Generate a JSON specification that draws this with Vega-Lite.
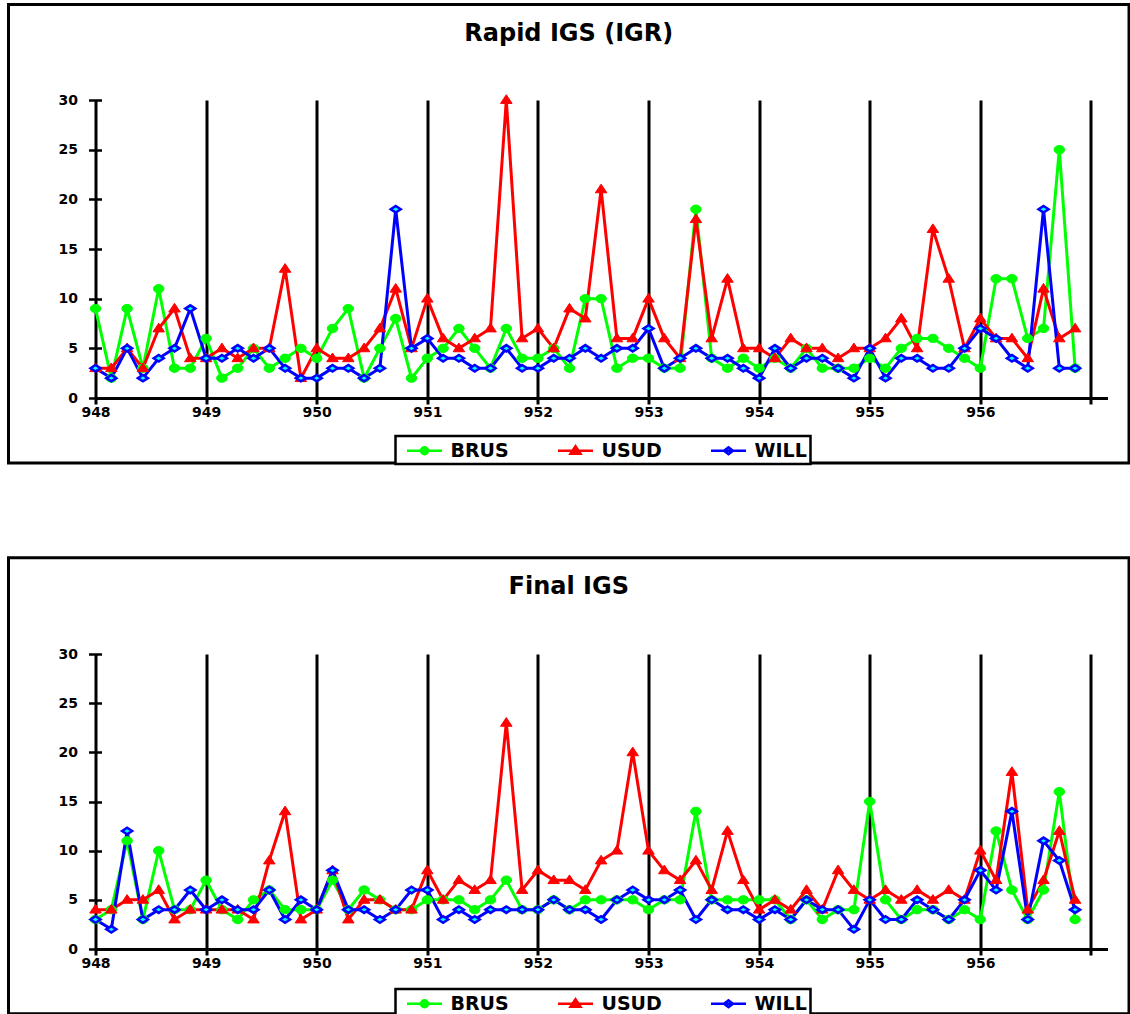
{
  "$schema": "https://vega.github.io/schema/vega-lite/v6.json",
  "padding": {"left": 6.5, "top": 3, "right": 0, "bottom": 0},
  "background": "white",
  "spacing": 90,
  "resolve": {"scale": {"color": "independent"}, "legend": {"color": "independent"}},
  "config": {
    "view": {"stroke": null},
    "font": "DejaVu Sans",
    "title": {"font": "DejaVu Sans", "fontSize": 24, "fontWeight": "bold", "color": "black"},
    "axis": {"labelFont": "DejaVu Sans", "labelFontWeight": "bold", "labelFontSize": 14, "labelColor": "black", "labelFlush": false},
    "legend": {"labelFont": "DejaVu Sans", "labelFontWeight": "bold", "labelFontSize": 19, "labelColor": "black"}
  },
  "vconcat": [
    {
      "width": 1012,
      "height": 298,
      "title": {"text": "Rapid IGS (IGR)", "frame": "bounds", "anchor": "middle", "baseline": "alphabetic", "offset": -62},
      "layer": [
        {
          "data": {"values": [{}]},
          "mark": {"type": "rect", "filled": false, "stroke": "black", "strokeWidth": 3},
          "encoding": {
            "x": {"datum": 947.2134, "type": "quantitative"},
            "x2": {"datum": 957.3445},
            "y": {"datum": -6.544, "type": "quantitative"},
            "y2": {"datum": 39.614}
          }
        },
        {
          "data": {"values": [
            {"t": 948, "BRUS": 9, "USUD": 3, "WILL": 3},
            {"t": 948.1429, "BRUS": 2, "USUD": 3, "WILL": 2},
            {"t": 948.2857, "BRUS": 9, "USUD": 5, "WILL": 5},
            {"t": 948.4286, "BRUS": 3, "USUD": 3, "WILL": 2},
            {"t": 948.5714, "BRUS": 11, "USUD": 7, "WILL": 4},
            {"t": 948.7143, "BRUS": 3, "USUD": 9, "WILL": 5},
            {"t": 948.8571, "BRUS": 3, "USUD": 4, "WILL": 9},
            {"t": 949, "BRUS": 6, "USUD": 4, "WILL": 4},
            {"t": 949.1429, "BRUS": 2, "USUD": 5, "WILL": 4},
            {"t": 949.2857, "BRUS": 3, "USUD": 4, "WILL": 5},
            {"t": 949.4286, "BRUS": 5, "USUD": 5, "WILL": 4},
            {"t": 949.5714, "BRUS": 3, "USUD": 5, "WILL": 5},
            {"t": 949.7143, "BRUS": 4, "USUD": 13, "WILL": 3},
            {"t": 949.8571, "BRUS": 5, "USUD": 2, "WILL": 2},
            {"t": 950, "BRUS": 4, "USUD": 5, "WILL": 2},
            {"t": 950.1429, "BRUS": 7, "USUD": 4, "WILL": 3},
            {"t": 950.2857, "BRUS": 9, "USUD": 4, "WILL": 3},
            {"t": 950.4286, "BRUS": 2, "USUD": 5, "WILL": 2},
            {"t": 950.5714, "BRUS": 5, "USUD": 7, "WILL": 3},
            {"t": 950.7143, "BRUS": 8, "USUD": 11, "WILL": 19},
            {"t": 950.8571, "BRUS": 2, "USUD": 5, "WILL": 5},
            {"t": 951, "BRUS": 4, "USUD": 10, "WILL": 6},
            {"t": 951.1429, "BRUS": 5, "USUD": 6, "WILL": 4},
            {"t": 951.2857, "BRUS": 7, "USUD": 5, "WILL": 4},
            {"t": 951.4286, "BRUS": 5, "USUD": 6, "WILL": 3},
            {"t": 951.5714, "BRUS": 3, "USUD": 7, "WILL": 3},
            {"t": 951.7143, "BRUS": 7, "USUD": 30, "WILL": 5},
            {"t": 951.8571, "BRUS": 4, "USUD": 6, "WILL": 3},
            {"t": 952, "BRUS": 4, "USUD": 7, "WILL": 3},
            {"t": 952.1429, "BRUS": 5, "USUD": 5, "WILL": 4},
            {"t": 952.2857, "BRUS": 3, "USUD": 9, "WILL": 4},
            {"t": 952.4286, "BRUS": 10, "USUD": 8, "WILL": 5},
            {"t": 952.5714, "BRUS": 10, "USUD": 21, "WILL": 4},
            {"t": 952.7143, "BRUS": 3, "USUD": 6, "WILL": 5},
            {"t": 952.8571, "BRUS": 4, "USUD": 6, "WILL": 5},
            {"t": 953, "BRUS": 4, "USUD": 10, "WILL": 7},
            {"t": 953.1429, "BRUS": 3, "USUD": 6, "WILL": 3},
            {"t": 953.2857, "BRUS": 3, "USUD": 4, "WILL": 4},
            {"t": 953.4286, "BRUS": 19, "USUD": 18, "WILL": 5},
            {"t": 953.5714, "BRUS": 4, "USUD": 6, "WILL": 4},
            {"t": 953.7143, "BRUS": 3, "USUD": 12, "WILL": 4},
            {"t": 953.8571, "BRUS": 4, "USUD": 5, "WILL": 3},
            {"t": 954, "BRUS": 3, "USUD": 5, "WILL": 2},
            {"t": 954.1429, "BRUS": 4, "USUD": 4, "WILL": 5},
            {"t": 954.2857, "BRUS": 3, "USUD": 6, "WILL": 3},
            {"t": 954.4286, "BRUS": 5, "USUD": 5, "WILL": 4},
            {"t": 954.5714, "BRUS": 3, "USUD": 5, "WILL": 4},
            {"t": 954.7143, "BRUS": 3, "USUD": 4, "WILL": 3},
            {"t": 954.8571, "BRUS": 3, "USUD": 5, "WILL": 2},
            {"t": 955, "BRUS": 4, "USUD": 5, "WILL": 5},
            {"t": 955.1429, "BRUS": 3, "USUD": 6, "WILL": 2},
            {"t": 955.2857, "BRUS": 5, "USUD": 8, "WILL": 4},
            {"t": 955.4286, "BRUS": 6, "USUD": 5, "WILL": 4},
            {"t": 955.5714, "BRUS": 6, "USUD": 17, "WILL": 3},
            {"t": 955.7143, "BRUS": 5, "USUD": 12, "WILL": 3},
            {"t": 955.8571, "BRUS": 4, "USUD": 5, "WILL": 5},
            {"t": 956, "BRUS": 3, "USUD": 8, "WILL": 7},
            {"t": 956.1429, "BRUS": 12, "USUD": 6, "WILL": 6},
            {"t": 956.2857, "BRUS": 12, "USUD": 6, "WILL": 4},
            {"t": 956.4286, "BRUS": 6, "USUD": 4, "WILL": 3},
            {"t": 956.5714, "BRUS": 7, "USUD": 11, "WILL": 19},
            {"t": 956.7143, "BRUS": 25, "USUD": 6, "WILL": 3},
            {"t": 956.8571, "BRUS": 3, "USUD": 7, "WILL": 3}
          ]},
          "transform": [{"fold": ["BRUS", "USUD", "WILL"], "as": ["site", "val"]}],
          "encoding": {
            "x": {
              "field": "t", "type": "quantitative",
              "scale": {"domain": [948, 957.15], "nice": false, "zero": false},
              "axis": {
                "title": null, "values": [948, 949, 950, 951, 952, 953, 954, 955, 956, 957],
                "format": "d", "labelExpr": "datum.value == 957 ? '' : datum.label",
                "grid": true, "gridColor": "black", "gridWidth": 3, "gridOpacity": 1,
                "domainColor": "black", "domainWidth": 3, "labelFlush": false,
                "tickColor": "black", "tickWidth": 3, "tickSize": 6, "labelPadding": 1
              }
            },
            "y": {
              "field": "val", "type": "quantitative",
              "scale": {"domain": [0, 30], "nice": false},
              "axis": {
                "title": null, "values": [0, 2.5, 5, 7.5, 10, 12.5, 15, 17.5, 20, 22.5, 25, 27.5, 30],
                "labelExpr": "datum.value % 5 == 0 ? datum.label : ''",
                "grid": false, "domain": false, "offset": -6,
                "tickColor": "black", "tickWidth": 2.5, "tickSize": 13, "labelPadding": 11
              }
            }
          },
          "layer": [
            {
              "mark": {"type": "line", "strokeWidth": 3},
              "encoding": {
                "color": {
                  "field": "site", "type": "nominal",
                  "scale": {"domain": ["BRUS", "USUD", "WILL"], "range": ["#00FF00", "#FF0000", "#0000FF"]},
                  "legend": {
                    "title": null, "orient": "none", "legendX": 300, "legendY": 336,
                    "direction": "horizontal", "symbolSize": 400, "labelOffset": 29,
                    "columnPadding": 40, "padding": 3, "strokeColor": "black",
                    "encode": {
                      "legend": {"update": {"strokeWidth": {"value": 2.5}, "fill": {"value": "white"}}},
                      "symbols": {"update": {
                        "shape": {"signal": "datum.value === 'BRUS' ? 'M-0.3,0H3.2M1.1,0A0.35,0.35,0,1,0,1.8,0A0.35,0.35,0,1,0,1.1,0Z' : datum.value === 'USUD' ? 'M-0.3,0H3.2M0.95,0.3L1.45,-0.45L1.95,0.3Z' : 'M-0.3,0H3.2M1.0,0L1.45,-0.35L1.9,0L1.45,0.35Z'"},
                        "fill": {"signal": "datum.value === 'BRUS' ? '#00FF00' : datum.value === 'USUD' ? '#FF0000' : '#00FFFF'"},
                        "stroke": {"signal": "datum.value === 'BRUS' ? '#00FF00' : datum.value === 'USUD' ? '#FF0000' : '#0000FF'"},
                        "strokeWidth": {"value": 2.5},
                        "opacity": {"value": 1}
                      }}
                    }
                  }
                }
              }
            },
            {
              "transform": [{"filter": "datum.site === 'BRUS'"}],
              "mark": {"type": "point", "filled": true, "size": 110, "opacity": 1, "shape": "M-1,0A1,0.8,0,1,0,1,0A1,0.8,0,1,0,-1,0Z", "fill": "#00FF00", "stroke": "#00FF00", "strokeWidth": 1}
            },
            {
              "transform": [{"filter": "datum.site === 'USUD'"}],
              "mark": {"type": "point", "filled": true, "size": 110, "opacity": 1, "shape": "M-1.1,0.65L0,-1L1.1,0.65Z", "fill": "#FF0000", "stroke": "#FF0000", "strokeWidth": 1}
            },
            {
              "transform": [{"filter": "datum.site === 'WILL'"}],
              "mark": {"type": "point", "filled": true, "size": 100, "opacity": 1, "shape": "M-1,0L0,-0.65L1,0L0,0.65Z", "fill": "#00FFFF", "stroke": "#0000FF", "strokeWidth": 2.5}
            }
          ]
        }
      ]
    },
    {
      "width": 1012,
      "height": 295,
      "title": {"text": "Final IGS", "frame": "bounds", "anchor": "middle", "baseline": "alphabetic", "offset": -62},
      "layer": [
        {
          "data": {"values": [{}]},
          "mark": {"type": "rect", "filled": false, "stroke": "black", "strokeWidth": 3},
          "encoding": {
            "x": {"datum": 947.2134, "type": "quantitative"},
            "x2": {"datum": 957.3445},
            "y": {"datum": -6.59, "type": "quantitative"},
            "y2": {"datum": 39.783}
          }
        },
        {
          "data": {"values": [
            {"t": 948, "BRUS": 3, "USUD": 4, "WILL": 3},
            {"t": 948.1429, "BRUS": 4, "USUD": 4, "WILL": 2},
            {"t": 948.2857, "BRUS": 11, "USUD": 5, "WILL": 12},
            {"t": 948.4286, "BRUS": 3, "USUD": 5, "WILL": 3},
            {"t": 948.5714, "BRUS": 10, "USUD": 6, "WILL": 4},
            {"t": 948.7143, "BRUS": 4, "USUD": 3, "WILL": 4},
            {"t": 948.8571, "BRUS": 4, "USUD": 4, "WILL": 6},
            {"t": 949, "BRUS": 7, "USUD": 4, "WILL": 4},
            {"t": 949.1429, "BRUS": 4, "USUD": 4, "WILL": 5},
            {"t": 949.2857, "BRUS": 3, "USUD": 4, "WILL": 4},
            {"t": 949.4286, "BRUS": 5, "USUD": 3, "WILL": 4},
            {"t": 949.5714, "BRUS": 6, "USUD": 9, "WILL": 6},
            {"t": 949.7143, "BRUS": 4, "USUD": 14, "WILL": 3},
            {"t": 949.8571, "BRUS": 4, "USUD": 3, "WILL": 5},
            {"t": 950, "BRUS": 4, "USUD": 4, "WILL": 4},
            {"t": 950.1429, "BRUS": 7, "USUD": 8, "WILL": 8},
            {"t": 950.2857, "BRUS": 4, "USUD": 3, "WILL": 4},
            {"t": 950.4286, "BRUS": 6, "USUD": 5, "WILL": 4},
            {"t": 950.5714, "BRUS": 5, "USUD": 5, "WILL": 3},
            {"t": 950.7143, "BRUS": 4, "USUD": 4, "WILL": 4},
            {"t": 950.8571, "BRUS": 4, "USUD": 4, "WILL": 6},
            {"t": 951, "BRUS": 5, "USUD": 8, "WILL": 6},
            {"t": 951.1429, "BRUS": 5, "USUD": 5, "WILL": 3},
            {"t": 951.2857, "BRUS": 5, "USUD": 7, "WILL": 4},
            {"t": 951.4286, "BRUS": 4, "USUD": 6, "WILL": 3},
            {"t": 951.5714, "BRUS": 5, "USUD": 7, "WILL": 4},
            {"t": 951.7143, "BRUS": 7, "USUD": 23, "WILL": 4},
            {"t": 951.8571, "BRUS": 4, "USUD": 6, "WILL": 4},
            {"t": 952, "BRUS": 4, "USUD": 8, "WILL": 4},
            {"t": 952.1429, "BRUS": 5, "USUD": 7, "WILL": 5},
            {"t": 952.2857, "BRUS": 4, "USUD": 7, "WILL": 4},
            {"t": 952.4286, "BRUS": 5, "USUD": 6, "WILL": 4},
            {"t": 952.5714, "BRUS": 5, "USUD": 9, "WILL": 3},
            {"t": 952.7143, "BRUS": 5, "USUD": 10, "WILL": 5},
            {"t": 952.8571, "BRUS": 5, "USUD": 20, "WILL": 6},
            {"t": 953, "BRUS": 4, "USUD": 10, "WILL": 5},
            {"t": 953.1429, "BRUS": 5, "USUD": 8, "WILL": 5},
            {"t": 953.2857, "BRUS": 5, "USUD": 7, "WILL": 6},
            {"t": 953.4286, "BRUS": 14, "USUD": 9, "WILL": 3},
            {"t": 953.5714, "BRUS": 5, "USUD": 6, "WILL": 5},
            {"t": 953.7143, "BRUS": 5, "USUD": 12, "WILL": 4},
            {"t": 953.8571, "BRUS": 5, "USUD": 7, "WILL": 4},
            {"t": 954, "BRUS": 5, "USUD": 4, "WILL": 3},
            {"t": 954.1429, "BRUS": 5, "USUD": 5, "WILL": 4},
            {"t": 954.2857, "BRUS": 3, "USUD": 4, "WILL": 3},
            {"t": 954.4286, "BRUS": 5, "USUD": 6, "WILL": 5},
            {"t": 954.5714, "BRUS": 3, "USUD": 4, "WILL": 4},
            {"t": 954.7143, "BRUS": 4, "USUD": 8, "WILL": 4},
            {"t": 954.8571, "BRUS": 4, "USUD": 6, "WILL": 2},
            {"t": 955, "BRUS": 15, "USUD": 5, "WILL": 5},
            {"t": 955.1429, "BRUS": 5, "USUD": 6, "WILL": 3},
            {"t": 955.2857, "BRUS": 3, "USUD": 5, "WILL": 3},
            {"t": 955.4286, "BRUS": 4, "USUD": 6, "WILL": 5},
            {"t": 955.5714, "BRUS": 4, "USUD": 5, "WILL": 4},
            {"t": 955.7143, "BRUS": 3, "USUD": 6, "WILL": 3},
            {"t": 955.8571, "BRUS": 4, "USUD": 5, "WILL": 5},
            {"t": 956, "BRUS": 3, "USUD": 10, "WILL": 8},
            {"t": 956.1429, "BRUS": 12, "USUD": 7, "WILL": 6},
            {"t": 956.2857, "BRUS": 6, "USUD": 18, "WILL": 14},
            {"t": 956.4286, "BRUS": 3, "USUD": 4, "WILL": 3},
            {"t": 956.5714, "BRUS": 6, "USUD": 7, "WILL": 11},
            {"t": 956.7143, "BRUS": 16, "USUD": 12, "WILL": 9},
            {"t": 956.8571, "BRUS": 3, "USUD": 5, "WILL": 4}
          ]},
          "transform": [{"fold": ["BRUS", "USUD", "WILL"], "as": ["site", "val"]}],
          "encoding": {
            "x": {
              "field": "t", "type": "quantitative",
              "scale": {"domain": [948, 957.15], "nice": false, "zero": false},
              "axis": {
                "title": null, "values": [948, 949, 950, 951, 952, 953, 954, 955, 956, 957],
                "format": "d", "labelExpr": "datum.value == 957 ? '' : datum.label",
                "grid": true, "gridColor": "black", "gridWidth": 3, "gridOpacity": 1,
                "domainColor": "black", "domainWidth": 3, "labelFlush": false,
                "tickColor": "black", "tickWidth": 3, "tickSize": 6, "labelPadding": 1
              }
            },
            "y": {
              "field": "val", "type": "quantitative",
              "scale": {"domain": [0, 30], "nice": false},
              "axis": {
                "title": null, "values": [0, 2.5, 5, 7.5, 10, 12.5, 15, 17.5, 20, 22.5, 25, 27.5, 30],
                "labelExpr": "datum.value % 5 == 0 ? datum.label : ''",
                "grid": false, "domain": false, "offset": -6,
                "tickColor": "black", "tickWidth": 2.5, "tickSize": 13, "labelPadding": 11
              }
            }
          },
          "layer": [
            {
              "mark": {"type": "line", "strokeWidth": 3},
              "encoding": {
                "color": {
                  "field": "site", "type": "nominal",
                  "scale": {"domain": ["BRUS", "USUD", "WILL"], "range": ["#00FF00", "#FF0000", "#0000FF"]},
                  "legend": {
                    "title": null, "orient": "none", "legendX": 300, "legendY": 335,
                    "direction": "horizontal", "symbolSize": 400, "labelOffset": 29,
                    "columnPadding": 40, "padding": 3, "strokeColor": "black",
                    "encode": {
                      "legend": {"update": {"strokeWidth": {"value": 2.5}, "fill": {"value": "white"}}},
                      "symbols": {"update": {
                        "shape": {"signal": "datum.value === 'BRUS' ? 'M-0.3,0H3.2M1.1,0A0.35,0.35,0,1,0,1.8,0A0.35,0.35,0,1,0,1.1,0Z' : datum.value === 'USUD' ? 'M-0.3,0H3.2M0.95,0.3L1.45,-0.45L1.95,0.3Z' : 'M-0.3,0H3.2M1.0,0L1.45,-0.35L1.9,0L1.45,0.35Z'"},
                        "fill": {"signal": "datum.value === 'BRUS' ? '#00FF00' : datum.value === 'USUD' ? '#FF0000' : '#00FFFF'"},
                        "stroke": {"signal": "datum.value === 'BRUS' ? '#00FF00' : datum.value === 'USUD' ? '#FF0000' : '#0000FF'"},
                        "strokeWidth": {"value": 2.5},
                        "opacity": {"value": 1}
                      }}
                    }
                  }
                }
              }
            },
            {
              "transform": [{"filter": "datum.site === 'BRUS'"}],
              "mark": {"type": "point", "filled": true, "size": 110, "opacity": 1, "shape": "M-1,0A1,0.8,0,1,0,1,0A1,0.8,0,1,0,-1,0Z", "fill": "#00FF00", "stroke": "#00FF00", "strokeWidth": 1}
            },
            {
              "transform": [{"filter": "datum.site === 'USUD'"}],
              "mark": {"type": "point", "filled": true, "size": 110, "opacity": 1, "shape": "M-1.1,0.65L0,-1L1.1,0.65Z", "fill": "#FF0000", "stroke": "#FF0000", "strokeWidth": 1}
            },
            {
              "transform": [{"filter": "datum.site === 'WILL'"}],
              "mark": {"type": "point", "filled": true, "size": 100, "opacity": 1, "shape": "M-1,0L0,-0.65L1,0L0,0.65Z", "fill": "#00FFFF", "stroke": "#0000FF", "strokeWidth": 2.5}
            }
          ]
        }
      ]
    }
  ]
}
